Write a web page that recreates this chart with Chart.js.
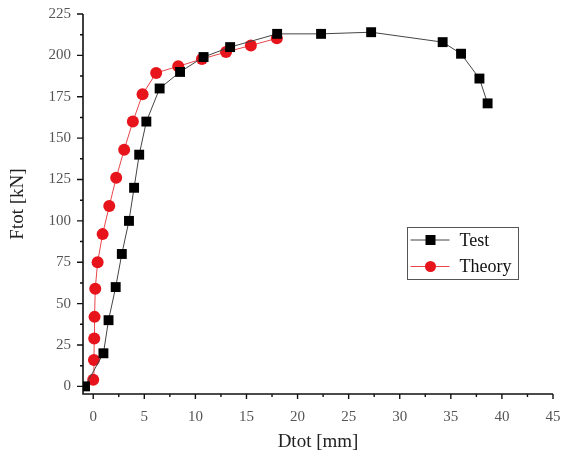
<!DOCTYPE html>
<html>
<head>
<meta charset="utf-8">
<title>Ftot vs Dtot</title>
<script src="https://cdn.jsdelivr.net/npm/chart.js@4.4.0/dist/chart.umd.min.js"></script>
<style>
  body { margin: 0; background: #fff; }
  #wrap { width: 563px; height: 457px; }
</style>
</head>
<body>
<div id="wrap"><canvas id="myChart" width="563" height="457"></canvas></div>
<script>
// measured load-displacement curve
var testX = [-0.8, 1.0, 1.5, 2.2, 2.8, 3.5, 4.0, 4.5, 5.2, 6.5, 8.5, 10.8, 13.4, 18.0, 22.3, 27.2, 34.2, 36.0, 37.8, 38.6];
var testY = [0, 20, 40, 60, 80, 100, 120, 140, 160, 180, 190, 199, 205, 213, 213, 214, 208, 201, 186, 171];

// predicted curve
var theoryX = [0.0, 0.07, 0.1, 0.13, 0.2, 0.43, 0.92, 1.57, 2.25, 3.03, 3.88, 4.83, 6.16, 8.32, 10.64, 13.0, 15.43, 17.97];
var theoryY = [4, 16, 29, 42, 59, 75, 92, 109, 126, 143, 160, 176.5, 189.4, 193.4, 197.8, 202, 206, 210.3];

var xTicks = [0, 5, 10, 15, 20, 25, 30, 35, 40, 45];
var yTicks = [0, 25, 50, 75, 100, 125, 150, 175, 200, 225];

function pairs(xs, ys) {
	return xs.map(function(x, i) { return { x: x, y: ys[i] }; });
}

var serif = '"Liberation Serif", "Times New Roman", serif';

// axis lines with major/minor tick marks on the outside
var axisLines = {
	id: 'axisLines',
	beforeDatasetsDraw: function(chart) {
		var ctx = chart.ctx, a = chart.chartArea;
		var xs = chart.scales.x, ys = chart.scales.y;
		ctx.save();
		ctx.strokeStyle = '#111';
		ctx.lineWidth = 1.6;
		ctx.beginPath();
		ctx.moveTo(a.left, a.top);
		ctx.lineTo(a.left, a.bottom);
		ctx.lineTo(a.right, a.bottom);
		ctx.stroke();
		ctx.lineWidth = 1.4;
		ctx.beginPath();
		xTicks.forEach(function(v, i) {
			var p = xs.getPixelForValue(v);
			ctx.moveTo(p, a.bottom); ctx.lineTo(p, a.bottom + 5);
			if (i < xTicks.length - 1) {
				var m = xs.getPixelForValue(v + 2.5);
				ctx.moveTo(m, a.bottom); ctx.lineTo(m, a.bottom + 3);
			}
		});
		yTicks.forEach(function(v, i) {
			var p = ys.getPixelForValue(v);
			ctx.moveTo(a.left, p); ctx.lineTo(a.left - 6, p);
			if (i < yTicks.length - 1) {
				var m = ys.getPixelForValue(v + 12.5);
				ctx.moveTo(a.left, m); ctx.lineTo(a.left - 3, m);
			}
		});
		ctx.stroke();
		ctx.restore();
	}
};

// boxed legend inside the plot
var boxLegend = {
	id: 'boxLegend',
	afterDraw: function(chart) {
		var ctx = chart.ctx;
		var left = 407.5, top = 227.5, w = 111, h = 52;
		ctx.save();
		ctx.strokeStyle = '#555';
		ctx.lineWidth = 1;
		ctx.strokeRect(left, top, w, h);
		chart.data.datasets.forEach(function(ds, i) {
			var y = 240 + i * 26.5;
			ctx.strokeStyle = ds.borderColor;
			ctx.lineWidth = 1;
			ctx.beginPath();
			ctx.moveTo(left + 3, y); ctx.lineTo(left + 42, y);
			ctx.stroke();
			ctx.fillStyle = ds.pointBackgroundColor;
			if (ds.pointStyle === 'rect') {
				ctx.fillRect(left + 18, y - 5, 10, 10);
			} else {
				ctx.beginPath();
				ctx.arc(left + 23, y, 5.5, 0, Math.PI * 2);
				ctx.fill();
			}
			ctx.fillStyle = '#111';
			ctx.font = '18px ' + serif;
			ctx.textBaseline = 'middle';
			ctx.fillText(ds.label, left + 52, y + 1);
		});
		ctx.restore();
	}
};

var ctx = document.getElementById('myChart').getContext('2d');
var myChart = new Chart(ctx, {
	type: 'scatter',
	data: {
		datasets: [{
			label: 'Test',
			data: pairs(testX, testY),
			showLine: true,
			borderColor: '#444',
			borderWidth: 1,
			pointStyle: 'rect',
			pointRadius: 7,
			pointBackgroundColor: '#000',
			pointBorderColor: '#000',
			pointBorderWidth: 0
		}, {
			label: 'Theory',
			data: pairs(theoryX, theoryY),
			showLine: true,
			borderColor: '#e8464a',
			borderWidth: 1,
			pointStyle: 'circle',
			pointRadius: 6,
			pointBackgroundColor: '#e8141c',
			pointBorderColor: '#e8141c',
			pointBorderWidth: 0
		}]
	},
	options: {
		responsive: false,
		animation: false,
		layout: { padding: { top: 14, right: 10, bottom: 0, left: 0 } },
		plugins: {
			legend: { display: false },
			tooltip: { enabled: false }
		},
		scales: {
			x: {
				type: 'linear',
				min: -1,
				max: 45,
				grid: { display: false, drawTicks: false },
				border: { display: false },
				afterBuildTicks: function(scale) {
					scale.ticks = xTicks.map(function(v) { return { value: v }; });
				},
				afterFit: function(scale) {
					scale.height = 63;
					scale.paddingLeft = 0;
					scale.paddingRight = 0;
				},
				ticks: {
					padding: 14,
					color: '#555',
					font: { family: serif, size: 15 }
				},
				title: {
					display: true,
					text: 'Dtot [mm]',
					color: '#222',
					font: { family: serif, size: 19 },
					padding: { top: 0, bottom: 4 }
				}
			},
			y: {
				type: 'linear',
				min: -4.6,
				max: 225,
				grid: { display: false, drawTicks: false },
				border: { display: false },
				afterBuildTicks: function(scale) {
					scale.ticks = yTicks.map(function(v) { return { value: v }; });
				},
				afterFit: function(scale) {
					scale.width = 83;
					scale.paddingTop = 0;
					scale.paddingBottom = 0;
				},
				ticks: {
					padding: 12,
					color: '#555',
					font: { family: serif, size: 15 }
				},
				title: {
					display: true,
					text: 'Ftot [kN]',
					color: '#222',
					font: { family: serif, size: 19 },
					padding: { top: 7, bottom: 0 }
				}
			}
		}
	},
	plugins: [axisLines, boxLegend]
});
</script>
</body>
</html>
